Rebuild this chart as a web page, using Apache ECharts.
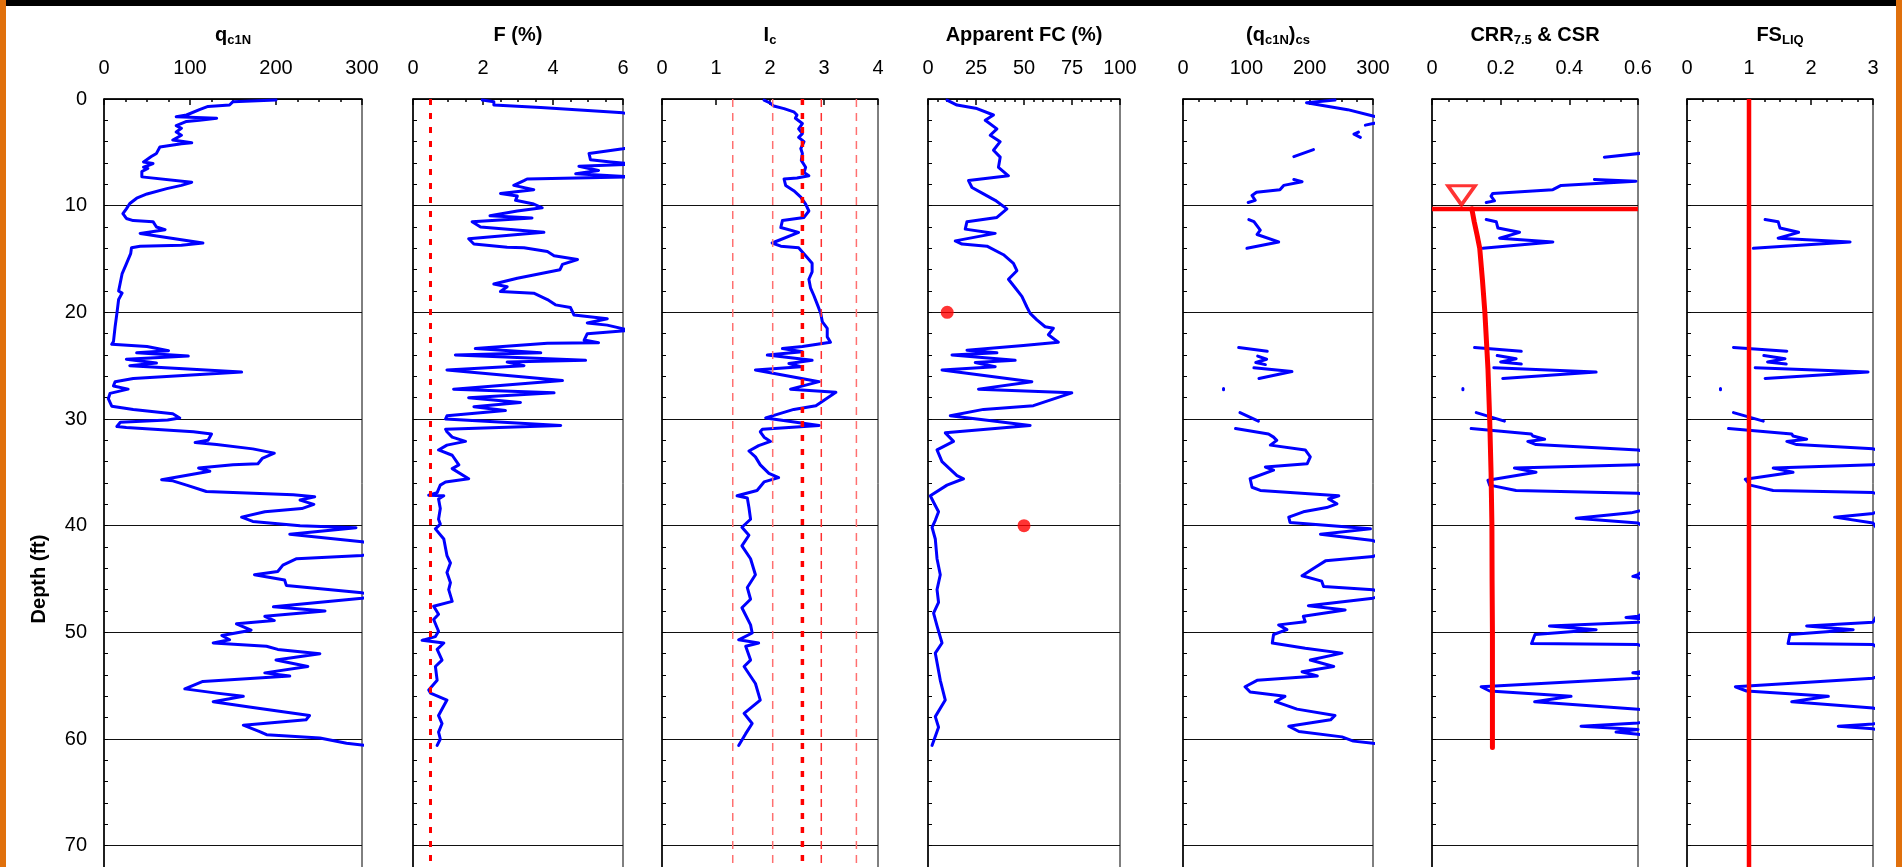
<!DOCTYPE html>
<html>
<head>
<meta charset="utf-8">
<script src="https://cdn.jsdelivr.net/npm/echarts@6/dist/echarts.min.js"></script>
<style>
    html, body { margin: 0; padding: 0; background: #fff; }
    #main { width: 1902px; height: 867px; }
</style>
</head>
<body>
<div id="main"></div>
<script>
// every point is [value, depth (ft)]
var qc1N = [[200,0.1],[150,0.25],[146,0.56],[121,0.7],[111,1.0],[96,1.5],[84,1.66],[131,1.8],[111,2.0],[96,2.1],[84,2.5],[90,2.75],[84,3.1],[90,3.4],[80,3.85],[102,4.1],[90,4.2],[65,4.5],[61,5.1],[55,5.4],[46,5.9],[57,6.05],[46,6.4],[51,6.5],[44,6.8],[44,7.3],[102,7.8],[90,8.1],[73,8.4],[50,8.9],[38,9.3],[30,9.8],[26,10.3],[22,10.75],[26,11.2],[34,11.4],[57,11.5],[61,12.0],[71,12.25],[42,12.6],[50,12.7],[65,12.9],[115,13.5],[90,13.7],[42,13.8],[32,13.95],[31,14.5],[26,15.45],[21,16.4],[19,17.2],[17,18.0],[21,18.2],[17,18.8],[15,20.1],[13,21.3],[11,22.75],[9,23.0],[50,23.2],[75,23.6],[38,23.8],[98,24.1],[26,24.4],[61,24.75],[30,25.0],[160,25.6],[34,26.2],[13,26.5],[11,26.9],[28,27.2],[7,27.6],[5,28.1],[9,28.8],[34,29.1],[80,29.5],[88,29.9],[74,30.1],[19,30.3],[15,30.7],[26,30.8],[104,31.2],[125,31.4],[121,32.0],[106,32.2],[131,32.4],[173,32.8],[198,33.2],[184,33.7],[179,34.2],[150,34.3],[110,34.6],[123,34.9],[67,35.7],[80,35.8],[96,36.2],[119,36.8],[220,37.1],[245,37.3],[228,37.6],[244,38.0],[230,38.4],[187,38.7],[160,39.2],[173,39.6],[228,40.0],[293,40.2],[216,40.8],[300,41.5],[330,42.1],[300,42.8],[224,43.1],[208,43.7],[202,44.3],[175,44.6],[210,45.1],[212,45.6],[300,46.3],[320,46.55],[300,46.8],[197,47.6],[257,48.0],[187,48.5],[198,48.9],[154,49.2],[171,49.8],[137,50.3],[146,50.7],[127,51.0],[189,51.3],[202,51.6],[251,52.0],[200,52.6],[237,53.2],[187,53.8],[216,54.1],[115,54.6],[94,55.3],[131,55.7],[162,56.0],[127,56.5],[169,57.0],[239,57.8],[235,58.2],[162,58.7],[181,59.3],[189,59.6],[251,59.9],[282,60.4],[310,60.65]];

var frictionRatio = [[1.98,0.1],[2.31,0.25],[2.31,0.57],[3.65,0.8],[6,1.3],[9,3],[6,4.66],[5.03,5.1],[5.07,5.7],[5.65,5.9],[6.3,6.1],[4.74,6.3],[5.3,6.7],[4.65,7.0],[6.2,7.3],[3.26,7.5],[3.17,7.65],[2.88,8.1],[3.45,8.5],[2.5,8.85],[2.98,9.1],[2.93,9.5],[3.45,9.85],[3.69,10.2],[2.98,10.5],[2.2,10.95],[3.4,11.15],[1.69,11.5],[1.93,12.0],[3.74,12.5],[1.59,13.1],[1.74,13.6],[2.69,13.9],[3.17,13.95],[3.84,14.3],[4.03,14.7],[4.7,15.05],[4.27,15.5],[4.2,16.0],[2.98,16.8],[2.31,17.35],[2.69,17.6],[2.5,18.05],[3.45,18.2],[3.84,18.8],[4.07,19.3],[4.5,19.55],[4.6,20.25],[5.55,20.6],[4.98,21.0],[5.55,21.2],[6.2,21.7],[4.98,22.0],[4.89,22.6],[5.3,22.85],[3.84,22.9],[1.78,23.4],[3.65,23.8],[1.21,24.0],[4.93,24.5],[2.69,24.65],[3.17,25.0],[0.97,25.4],[4.27,26.4],[1.16,27.2],[4.03,27.55],[1.59,28.0],[3.07,28.45],[1.74,28.85],[2.64,29.2],[0.97,29.7],[0.93,30.0],[4.22,30.6],[0.93,30.95],[0.97,31.2],[1.12,31.7],[1.5,32.1],[0.97,32.45],[0.73,32.9],[1.12,33.4],[1.31,34.3],[1.12,34.65],[1.59,35.6],[0.93,35.9],[0.78,36.2],[0.69,36.9],[0.45,37.15],[0.88,37.2],[0.73,37.5],[0.78,38.4],[0.73,39.4],[0.78,39.85],[0.64,40.3],[0.88,41.25],[0.97,42.8],[1.07,43.5],[0.97,44.4],[1.07,45.35],[1.02,46.0],[1.12,47.1],[0.59,47.55],[0.73,48.3],[0.59,48.8],[0.73,49.9],[0.64,50.4],[0.26,50.75],[0.88,51.0],[0.69,51.6],[0.83,52.6],[0.64,53.2],[0.69,54.5],[0.45,55.4],[0.5,55.7],[0.97,56.35],[0.73,57.8],[0.83,58.55],[0.73,59.35],[0.78,60.0],[0.69,60.6]];

var ic = [[1.89,0.1],[2.01,0.4],[2.07,0.66],[2.26,0.9],[2.44,1.2],[2.5,1.5],[2.47,1.8],[2.6,2.3],[2.53,2.8],[2.6,3.25],[2.53,3.6],[2.63,4.0],[2.57,4.65],[2.6,5.1],[2.58,5.75],[2.66,6.4],[2.63,6.9],[2.72,7.2],[2.5,7.4],[2.26,7.5],[2.29,8.1],[2.44,8.6],[2.57,9.2],[2.66,9.85],[2.72,10.5],[2.63,11.1],[2.23,11.4],[2.2,12.05],[2.53,12.5],[2.04,13.5],[2.2,13.8],[2.53,13.95],[2.66,14.7],[2.78,15.4],[2.78,16.2],[2.72,16.9],[2.75,17.7],[2.81,18.4],[2.88,19.3],[2.94,20.1],[2.97,20.9],[3.06,21.5],[3.06,22.3],[3.12,22.8],[2.6,23.2],[2.23,23.4],[2.6,23.7],[1.95,24.0],[2.78,24.5],[2.35,24.8],[2.57,25.1],[1.73,25.4],[2.91,26.5],[2.38,27.2],[3.22,27.5],[2.85,28.75],[2.44,29.1],[1.92,29.9],[2.91,30.6],[1.86,30.95],[1.82,31.2],[1.89,31.7],[2.01,32.1],[1.79,32.5],[1.61,33.0],[1.73,33.55],[1.82,34.3],[1.98,35.1],[2.16,35.5],[1.89,35.9],[1.76,36.7],[1.39,37.2],[1.58,37.4],[1.61,38.3],[1.64,39.4],[1.48,40.15],[1.61,40.9],[1.48,41.9],[1.64,43.1],[1.73,44.6],[1.58,45.8],[1.64,46.9],[1.48,47.7],[1.64,49.3],[1.67,50.06],[1.42,50.7],[1.79,51.0],[1.55,51.3],[1.64,52.6],[1.52,53.2],[1.73,54.8],[1.82,56.35],[1.52,57.6],[1.67,58.55],[1.55,59.5],[1.42,60.6]];
var icBounds = [1.31, 2.05, 2.95, 3.6];
var icLimit = 2.6;
var fLimit = 0.5;

var apparentFC = [[9.9,0.1],[15.1,0.57],[25.5,0.9],[34.1,1.5],[29.8,2.0],[35.9,2.8],[32.4,3.4],[37.6,4.0],[34.1,4.8],[37.6,5.45],[36.7,6.4],[41.9,7.2],[21.1,7.65],[22.9,8.3],[28.9,8.9],[35.0,9.5],[41.1,10.3],[35.9,11.1],[20.3,11.5],[19.4,12.2],[35.0,12.6],[14.2,13.3],[17.7,13.6],[30.7,13.8],[39.3,14.6],[44.5,15.4],[46.3,16.1],[41.9,16.9],[45.4,17.7],[48.9,18.5],[51.5,19.5],[53.2,20.1],[56.7,20.7],[61.0,21.35],[65.3,21.5],[62.7,22.1],[67.9,22.8],[49.7,23.1],[20.3,23.55],[35.9,23.8],[12.5,24.0],[45.4,24.5],[24.6,24.7],[35.0,25.1],[7.3,25.4],[54.1,26.5],[26.3,27.2],[74.9,27.55],[54.9,28.75],[28.9,29.1],[11.6,29.7],[53.2,30.6],[9.0,31.3],[13.3,32.1],[4.7,32.9],[7.3,34.0],[15.1,35.3],[18.5,35.6],[9.9,36.2],[1.2,37.2],[2.9,37.8],[5.5,38.7],[3.8,39.5],[2.1,40.15],[3.8,41.25],[4.7,43.1],[6.4,44.6],[4.7,46.0],[5.5,47.2],[2.9,48.2],[4.7,49.4],[7.3,51.0],[3.8,51.95],[6.4,54.5],[9.0,56.35],[3.8,57.9],[5.5,58.9],[2.1,60.6]];
var labFC = [[10,20],[50,40]];

// gaps between segments are where nothing was computed
var qcsSegs = [
    [[240,0.1],[195,0.35],[260,1.0],[300,1.6],[330,1.95],[300,2.3],[288,2.45]],
    [[277,3.1],[270,3.3],[280,3.6]],
    [[206,4.75],[175,5.4]],
    [[175,7.55],[188,7.75],[159,8.1],[153,8.5],[116,8.75],[109,9.05],[114,9.5],[103,9.7]],
    [[104,11.3],[112,11.5],[117,11.9],[122,12.3],[117,12.7],[151,13.4],[101,14.0]],
    [[88,23.3],[133,23.65]],
    [[118,24.1],[132,24.4],[115,24.7],[130,24.9]],
    [[112,25.2],[172,25.55],[120,26.2]],
    [[64,27.15],[64,27.25]],
    [[90,29.4],[119,30.2]],
    [[83,30.9],[135,31.4],[143,31.7],[148,32.0],[138,32.45],[193,32.9],[201,33.55],[196,34.2],[130,34.5],[143,34.8],[106,35.6],[109,36.4],[122,36.7],[246,37.2],[230,37.5],[243,37.95],[227,38.3],[190,38.7],[167,39.2],[169,39.7],[296,40.3],[217,40.8],[300,41.4],[330,42.1],[300,42.9],[225,43.3],[209,43.9],[188,44.7],[219,45.2],[222,45.7],[300,46.0],[320,46.4],[300,46.8],[198,47.5],[256,47.9],[190,48.5],[193,49.0],[151,49.3],[164,49.75],[143,50.2],[141,51.0],[193,51.5],[251,51.95],[201,52.6],[238,53.2],[188,53.7],[212,54.1],[117,54.5],[98,55.1],[106,55.6],[161,56.0],[146,56.5],[180,57.2],[240,57.8],[233,58.2],[167,58.8],[183,59.3],[251,59.8],[269,60.2],[300,60.4],[320,60.5]]
];

var crrSegs = [
    [[0.62,5.05],[0.502,5.45]],
    [[0.473,7.55],[0.594,7.7],[0.376,8.1],[0.352,8.5],[0.177,8.85],[0.172,9.1],[0.182,9.55],[0.158,9.7]],
    [[0.158,11.3],[0.187,11.5],[0.192,12.1],[0.255,12.5],[0.197,13.05],[0.352,13.4],[0.148,14.0]],
    [[0.124,23.3],[0.26,23.65]],
    [[0.19,24.05],[0.245,24.35],[0.2,24.65],[0.26,24.85]],
    [[0.18,25.2],[0.478,25.6],[0.206,26.2]],
    [[0.09,27.15],[0.09,27.25]],
    [[0.129,29.4],[0.211,30.2]],
    [[0.114,30.9],[0.289,31.4],[0.294,31.6],[0.328,31.9],[0.279,32.1],[0.303,32.4],[0.6,32.9],[0.7,33.6],[0.6,34.3],[0.24,34.6],[0.303,35.0],[0.163,35.75],[0.168,36.2],[0.245,36.7],[0.6,36.95],[0.7,37.8],[0.6,38.65],[0.58,38.8],[0.42,39.3],[0.6,39.75],[0.7,42],[0.6,44.6],[0.585,44.75],[0.6,44.85],[0.7,46.5],[0.6,48.5],[0.565,48.6],[0.6,48.7],[0.7,48.85],[0.6,49.05],[0.342,49.4],[0.478,49.75],[0.3,50.2],[0.29,51.05],[0.6,51.15],[0.7,52.5],[0.6,53.75],[0.585,53.8],[0.6,53.85],[0.7,54.1],[0.6,54.3],[0.143,55.1],[0.168,55.5],[0.405,56.0],[0.299,56.5],[0.6,57.2],[0.7,57.8],[0.6,58.5],[0.434,58.8],[0.6,59.1],[0.536,59.35],[0.6,59.55],[0.7,59.9]]
];
var csr = [[0.116,10.3],[0.123,11.5],[0.131,12.7],[0.139,14],[0.147,17],[0.154,20],[0.163,25.3],[0.168,30],[0.172,35],[0.1745,40],[0.175,45],[0.176,50],[0.176,55],[0.176,60.8]];
var waterTable = 10.31;
var waterMark = [[0.086, 9.03]];

var fsSegs = [
    [[1.26,11.3],[1.47,11.5],[1.5,12.1],[1.8,12.5],[1.47,13.05],[2.63,13.4],[1.07,14.0]],
    [[0.75,23.3],[1.61,23.65]],
    [[1.24,24.05],[1.58,24.35],[1.3,24.65],[1.6,24.85]],
    [[1.1,25.2],[2.92,25.6],[1.26,26.2]],
    [[0.54,27.15],[0.54,27.25]],
    [[0.75,29.4],[1.23,30.2]],
    [[0.67,30.9],[1.69,31.4],[1.71,31.6],[1.93,31.9],[1.61,32.1],[1.77,32.4],[3,32.8],[3.5,33.5],[3,34.3],[1.39,34.6],[1.71,35.0],[0.94,35.65],[1.02,36.2],[1.39,36.7],[3,36.9],[3.5,37.8],[3,38.85],[2.38,39.2],[3,39.75],[3.5,44],[3,49.05],[1.93,49.4],[2.68,49.75],[1.66,50.2],[1.63,51.05],[3,51.15],[3.5,53],[3,54.3],[0.78,55.1],[0.96,55.5],[2.28,56.0],[1.69,56.5],[3,57.1],[3.5,57.8],[3,58.6],[2.44,58.8],[3,59.05],[3.5,59.5]]
];
var fsLimit = 1;

var depthMax = 90;

var FONT = 'Liberation Sans, Arial, sans-serif';
var BLUE = '#0000ff';
var RED = '#ff0000';

var panels = [
    { left: 104, width: 258, max: 300, step: 100, minor: 4, title: 'q{s|c1N}' },
    { left: 413, width: 210, max: 6, step: 2, minor: 4, title: 'F (%)' },
    { left: 662, width: 216, max: 4, step: 1, minor: 0, title: 'I{s|c}' },
    { left: 928, width: 192, max: 100, step: 25, minor: 5, title: 'Apparent FC (%)' },
    { left: 1183, width: 190, max: 300, step: 100, minor: 4, title: '(q{s|c1N}){s|cs}' },
    { left: 1432, width: 206, max: 0.6, step: 0.2, minor: 4, title: 'CRR{s|7.5} & CSR' },
    { left: 1687, width: 186, max: 3, step: 1, minor: 4, title: 'FS{s|LIQ}' }
];

function joinSegs(segs) {
    var out = [];
    segs.forEach(function (s, i) {
        if (i > 0) out.push(['-', '-']);
        out = out.concat(s);
    });
    return out;
}

function profile(idx, data) {
    return {
        type: 'line', xAxisIndex: idx, yAxisIndex: idx, data: data,
        symbol: 'none', clip: true, silent: true,
        lineStyle: { color: BLUE, width: 3, join: 'round', cap: 'round' }
    };
}

function vline(idx, x, color, width, dash) {
    return {
        type: 'line', xAxisIndex: idx, yAxisIndex: idx,
        data: [[x, 0], [x, depthMax]], symbol: 'none', silent: true,
        lineStyle: { color: color, width: width, type: dash }
    };
}

var grids = [], xAxes = [], yAxes = [], titles = [];
panels.forEach(function (p, i) {
    grids.push({ left: p.left, top: 99, width: p.width, height: 960, show: true,
        outerBoundsMode: 'none', containLabel: false,
        borderColor: '#000', borderWidth: 1, backgroundColor: '#fff' });
    xAxes.push({
        type: 'value', gridIndex: i, position: 'top', min: 0, max: p.max, interval: p.step,
        axisLine: { show: true, lineStyle: { color: '#000', width: 1.5 } },
        axisTick: { show: true, inside: true, length: 6, lineStyle: { color: '#000', width: 1.5 } },
        minorTick: { show: p.minor > 0, splitNumber: p.minor || 5, length: 3, lineStyle: { color: '#000', width: 1.5 } },
        axisLabel: { show: true, margin: 21, color: '#000', fontSize: 20, fontFamily: FONT },
        splitLine: { show: false }
    });
    yAxes.push({
        type: 'value', gridIndex: i, inverse: true, min: 0, max: depthMax, interval: 10,
        axisLine: { show: true, lineStyle: { color: '#000', width: 1.5 } },
        axisTick: { show: true, inside: true, length: 4, lineStyle: { color: '#000' } },
        minorTick: { show: true, splitNumber: 5, length: 4, lineStyle: { color: '#000' } },
        axisLabel: { show: i === 0, margin: 17, color: '#000', fontSize: 20, fontFamily: FONT },
        splitLine: { show: true, lineStyle: { color: '#111', width: 1 } },
        name: i === 0 ? 'Depth (ft)' : '',
        nameLocation: 'middle', nameGap: 55,
        nameTextStyle: { color: '#000', fontSize: 20, fontWeight: 'bold', fontFamily: FONT }
    });
    titles.push({
        text: p.title, left: p.left + p.width / 2, top: 23, textAlign: 'center', padding: 0,
        textStyle: {
            color: '#000', fontSize: 20, fontWeight: 'bold', fontFamily: FONT, lineHeight: 24,
            rich: { s: { color: '#000', fontSize: 13, fontWeight: 'bold', fontFamily: FONT, lineHeight: 13, verticalAlign: 'bottom' } }
        }
    });
});

var series = [];
series.push(profile(0, qc1N));
series.push(profile(1, frictionRatio));
series.push(vline(1, fLimit, RED, 3, [6, 8]));
series.push(profile(2, ic));
icBounds.forEach(function (b) {
    series.push(vline(2, b, b === 2.95 ? '#ff3030' : '#ff7070', 1.5, [8, 6]));
});
series.push(vline(2, icLimit, RED, 3.5, [6, 8]));
series.push(profile(3, apparentFC));
series.push({ type: 'scatter', xAxisIndex: 3, yAxisIndex: 3, data: labFC, symbolSize: 13,
    itemStyle: { color: RED }, silent: true });
series.push(profile(4, joinSegs(qcsSegs)));
series.push(profile(5, joinSegs(crrSegs)));
series.push({ type: 'line', xAxisIndex: 5, yAxisIndex: 5, data: [[0, waterTable], [0.6, waterTable]],
    symbol: 'none', silent: true, lineStyle: { color: RED, width: 4.5 } });
series.push({ type: 'line', xAxisIndex: 5, yAxisIndex: 5, data: csr, symbol: 'none', silent: true,
    lineStyle: { color: RED, width: 5, cap: 'round', join: 'round' } });
series.push({ type: 'scatter', xAxisIndex: 5, yAxisIndex: 5, data: waterMark, symbol: 'triangle',
    symbolRotate: 180, symbolSize: [27, 19], silent: true,
    itemStyle: { color: 'rgba(0,0,0,0)', borderColor: RED, borderWidth: 3.5 } });
series.push(profile(6, joinSegs(fsSegs)));
series.push(vline(6, fsLimit, RED, 4.5, 'solid'));

var chart = echarts.init(document.getElementById('main'));
chart.setOption({
    animation: false,
    backgroundColor: '#fff',
    title: titles,
    grid: grids,
    xAxis: xAxes,
    yAxis: yAxes,
    series: series,
    graphic: [
        { type: 'rect', shape: { x: 6, y: 0, width: 1890, height: 6 }, style: { fill: '#000' }, silent: true },
        { type: 'rect', shape: { x: 0, y: 0, width: 6, height: 867 }, style: { fill: '#e0700c' }, silent: true },
        { type: 'rect', shape: { x: 1896, y: 0, width: 6, height: 867 }, style: { fill: '#e0700c' }, silent: true }
    ]
});
</script>
</body>
</html>
